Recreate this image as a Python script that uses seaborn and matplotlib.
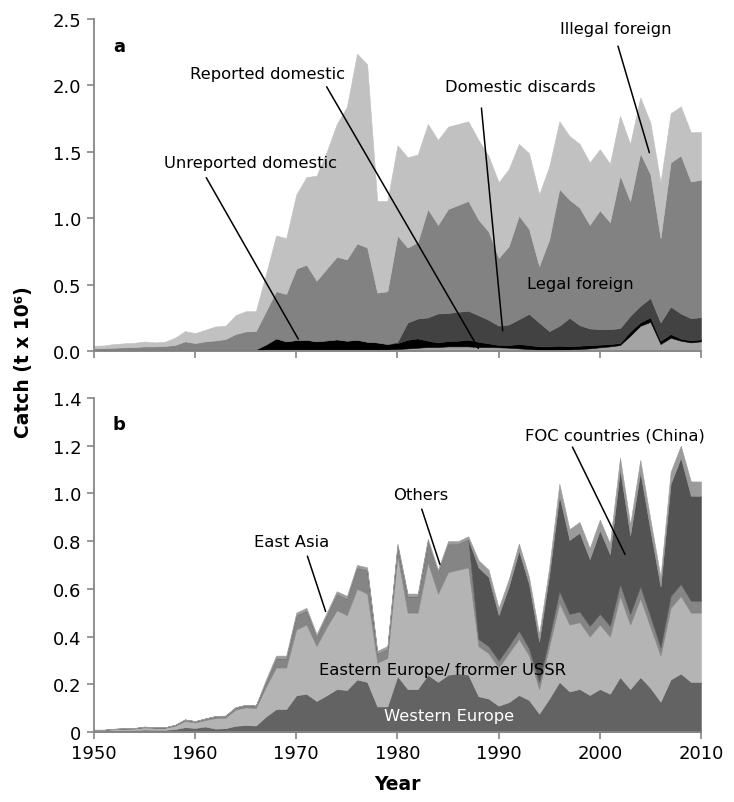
import matplotlib
matplotlib.use('Agg')
import matplotlib.pyplot as plt
import seaborn as sns

years = list(range(1950, 2011))

# panel a - catch by sector (t x 10^6)
reported_domestic = [0.006] * 17 + [0.012] * 13 + [
    0.015, 0.02, 0.025, 0.03, 0.03, 0.035, 0.035, 0.035, 0.03, 0.03,
    0.028, 0.025, 0.02, 0.015, 0.01, 0.008, 0.01, 0.012, 0.015, 0.02,
    0.028, 0.035, 0.045, 0.115, 0.19, 0.22, 0.053, 0.10, 0.078, 0.065, 0.073]
unreported_domestic = [0.006] * 17 + [
    0.038, 0.083, 0.061, 0.071, 0.073, 0.061, 0.068, 0.076, 0.066, 0.073,
    0.058, 0.053, 0.041,
    0.045, 0.065, 0.07, 0.048, 0.035, 0.04, 0.043, 0.05, 0.04, 0.028,
    0.018, 0.02, 0.033, 0.03, 0.025, 0.027, 0.03, 0.023, 0.025, 0.025,
    0.02, 0.018, 0.015, 0.033, 0.026, 0.033, 0.025, 0.028, 0.015, 0.015, 0.015]
domestic_discards = [0.0] * 30 + [
    0.01, 0.13, 0.15, 0.175, 0.218, 0.211, 0.218, 0.218, 0.2, 0.177,
    0.145, 0.155, 0.187, 0.235, 0.18, 0.115, 0.15, 0.215, 0.155, 0.125,
    0.117, 0.112, 0.112, 0.117, 0.124, 0.147, 0.137, 0.207, 0.19, 0.167, 0.167]
legal_foreign = [
    0.008, 0.01, 0.013, 0.016, 0.018, 0.023, 0.023, 0.026, 0.033, 0.061,
    0.048, 0.061, 0.068, 0.078, 0.116, 0.136, 0.138,
    0.25, 0.355, 0.357, 0.537, 0.565, 0.457, 0.54, 0.622, 0.612, 0.725,
    0.71, 0.375, 0.397,
    0.80, 0.564, 0.575, 0.817, 0.667, 0.784, 0.804, 0.827, 0.72, 0.665,
    0.51, 0.59, 0.78, 0.64, 0.425, 0.69, 1.03, 0.89, 0.885, 0.78,
    0.895, 0.805, 1.15, 0.865, 1.15, 0.93, 0.635, 1.085, 1.19, 1.03, 1.035]
illegal_foreign = [
    0.02, 0.02, 0.028, 0.03, 0.032, 0.037, 0.03, 0.032, 0.055, 0.077,
    0.075, 0.087, 0.105, 0.10, 0.142, 0.152, 0.15, 0.28, 0.42, 0.42,
    0.56, 0.66, 0.79, 0.88, 1.00, 1.15, 1.43, 1.38, 0.69, 0.68,
    0.68, 0.68, 0.66, 0.64, 0.64, 0.62, 0.61, 0.60, 0.60, 0.57,
    0.57, 0.58, 0.54, 0.57, 0.54, 0.55, 0.51, 0.48, 0.48, 0.47,
    0.46, 0.44, 0.45, 0.43, 0.42, 0.39, 0.42, 0.37, 0.37, 0.37, 0.36]

# panel b - foreign catch by fleet origin (t x 10^6)
western_europe = [
    0.003, 0.004, 0.006, 0.007, 0.008, 0.01, 0.009, 0.009, 0.012, 0.02,
    0.017, 0.023, 0.014, 0.016, 0.026, 0.029, 0.027, 0.065, 0.096, 0.096,
    0.154, 0.16, 0.13, 0.154, 0.18, 0.176, 0.22, 0.21, 0.107, 0.107,
    0.234, 0.18, 0.18, 0.24, 0.21, 0.24, 0.245, 0.24, 0.15, 0.14,
    0.11, 0.125, 0.155, 0.134, 0.077, 0.14, 0.21, 0.17, 0.18, 0.155,
    0.18, 0.16, 0.23, 0.18, 0.23, 0.185, 0.127, 0.22, 0.245, 0.21, 0.21]
eastern_europe = [
    0.005, 0.004, 0.005, 0.006, 0.006, 0.009, 0.008, 0.008, 0.014, 0.026,
    0.023, 0.027, 0.044, 0.044, 0.068, 0.074, 0.073, 0.125, 0.174, 0.174,
    0.276, 0.29, 0.23, 0.286, 0.33, 0.314, 0.38, 0.37, 0.183, 0.203,
    0.506, 0.32, 0.32, 0.47, 0.37, 0.43, 0.435, 0.45, 0.21, 0.19,
    0.16, 0.205, 0.235, 0.186, 0.103, 0.22, 0.33, 0.28, 0.28, 0.245,
    0.27, 0.24, 0.34, 0.27, 0.33, 0.255, 0.193, 0.30, 0.325, 0.29, 0.29]
east_asia = [
    0.001, 0.001, 0.002, 0.002, 0.002, 0.003, 0.002, 0.002, 0.003, 0.006,
    0.005, 0.006, 0.008, 0.008, 0.009, 0.01, 0.01, 0.018, 0.038, 0.038,
    0.058, 0.058, 0.038, 0.048, 0.068, 0.068, 0.088, 0.098, 0.038, 0.038,
    0.038, 0.068, 0.068, 0.088, 0.088, 0.118, 0.108, 0.118, 0.03, 0.03,
    0.03, 0.03, 0.035, 0.03, 0.03, 0.035, 0.05, 0.045, 0.045, 0.045,
    0.045, 0.045, 0.05, 0.045, 0.05, 0.045, 0.035, 0.05, 0.05, 0.05, 0.05]
foc_china = [0.0] * 38 + [
    0.30, 0.29, 0.19, 0.25, 0.335, 0.27, 0.17, 0.265, 0.40, 0.31,
    0.33, 0.28, 0.35, 0.30, 0.48, 0.33, 0.48, 0.36, 0.255, 0.47,
    0.53, 0.44, 0.44]
others = [0.001] * 17 + [0.012] * 21 + [0.03] * 8 + [
    0.05, 0.045, 0.045, 0.045, 0.045, 0.045, 0.05, 0.045, 0.05, 0.045,
    0.04, 0.05, 0.05, 0.06, 0.06]

sns.set_theme(style='ticks')
plt.rcParams['font.family'] = ['DejaVu Sans']
plt.rcParams['text.color'] = 'black'

fig = plt.figure(figsize=(7.34, 8.03), dpi=100)
ax_a = fig.add_axes([0.128, 0.5616, 0.827, 0.4134])
ax_b = fig.add_axes([0.128, 0.0872, 0.827, 0.416])

ax_a.stackplot(years, reported_domestic, unreported_domestic, domestic_discards,
               legal_foreign, illegal_foreign,
               colors=['#a4a4a4', '#000000', '#424242', '#828282', '#c1c1c1'],
               linewidth=0.4, edgecolor='face')
ax_b.stackplot(years, western_europe, eastern_europe, east_asia, foc_china, others,
               colors=['#636363', '#b4b4b4', '#858585', '#535353', '#9b9b9b'],
               linewidth=0.4, edgecolor='face')

spine_col = '#868686'
for ax, top, yt, ylab in [(ax_a, 2.5, [0, 0.5, 1.0, 1.5, 2.0, 2.5],
                           ['0.0', '0.5', '1.0', '1.5', '2.0', '2.5']),
                          (ax_b, 1.4, [0, 0.2, 0.4, 0.6, 0.8, 1.0, 1.2, 1.4],
                           ['0', '0.2', '0.4', '0.6', '0.8', '1.0', '1.2', '1.4'])]:
    ax.set_xlim(1950, 2010)
    ax.set_ylim(0, top)
    ax.set_yticks(yt)
    ax.set_yticklabels(ylab)
    ax.set_xticks(range(1950, 2011, 10))
    sns.despine(ax=ax)
    for s in ['left', 'bottom']:
        ax.spines[s].set_color(spine_col)
        ax.spines[s].set_linewidth(1.3)
    ax.tick_params(axis='both', direction='out', length=5, width=1.2,
                   color=spine_col, labelsize=13, pad=4, labelcolor='black')
    ax.set_facecolor('white')

ax_a.set_xticklabels([])

# panel a labels
line_kw = dict(arrowstyle='-', color='black', lw=1.1, shrinkA=0, shrinkB=0)
txt_kw = dict(fontsize=11.8, ha='center', va='center', color='black')
ax_a.text(0.031, 0.92, 'a', transform=ax_a.transAxes, fontsize=13, fontweight='bold', va='center')
ax_a.text(1965.5, 1.423, 'Unreported domestic', **txt_kw)
ax_a.annotate('', xy=(1970.2, 0.09), xytext=(1961.1, 1.306), arrowprops=line_kw)
ax_a.text(1967.2, 2.093, 'Reported domestic', **txt_kw)
ax_a.annotate('', xy=(1988.0, 0.02), xytext=(1973.0, 1.99), arrowprops=line_kw)
ax_a.text(1992.1, 1.995, 'Domestic discards', **txt_kw)
ax_a.annotate('', xy=(1990.4, 0.153), xytext=(1988.3, 1.83), arrowprops=line_kw)
ax_a.text(2001.6, 2.432, 'Illegal foreign', **txt_kw)
ax_a.annotate('', xy=(2004.9, 1.494), xytext=(2001.8, 2.296), arrowprops=line_kw)
ax_a.text(1998.1, 0.512, 'Legal foreign', **txt_kw)

# panel b labels
ax_b.text(0.031, 0.922, 'b', transform=ax_b.transAxes, fontsize=13, fontweight='bold', va='center')
ax_b.text(1969.5, 0.797, 'East Asia', **txt_kw)
ax_b.annotate('', xy=(1972.9, 0.505), xytext=(1971.1, 0.737), arrowprops=line_kw)
ax_b.text(1982.3, 0.996, 'Others', **txt_kw)
ax_b.annotate('', xy=(1984.2, 0.702), xytext=(1982.4, 0.934), arrowprops=line_kw)
ax_b.text(2001.5, 1.245, 'FOC countries (China)', **txt_kw)
ax_b.annotate('', xy=(2002.5, 0.744), xytext=(1997.3, 1.194), arrowprops=line_kw)
ax_b.text(1984.5, 0.262, 'Eastern Europe/ frormer USSR', **txt_kw)
txt_w = dict(txt_kw)
txt_w['color'] = 'white'
ax_b.text(1985.1, 0.068, 'Western Europe', **txt_w)

fig.text(24 / 734, 1 - 362 / 803, 'Catch (t x 10\u2076)', rotation=90, fontsize=13.5,
         fontweight='bold', ha='center', va='center', color='black')
fig.text(397.5 / 734, 1 - 785 / 803, 'Year', fontsize=13.5, fontweight='bold',
         ha='center', va='center', color='black')

fig.savefig('out.png', dpi=100, facecolor='white')
